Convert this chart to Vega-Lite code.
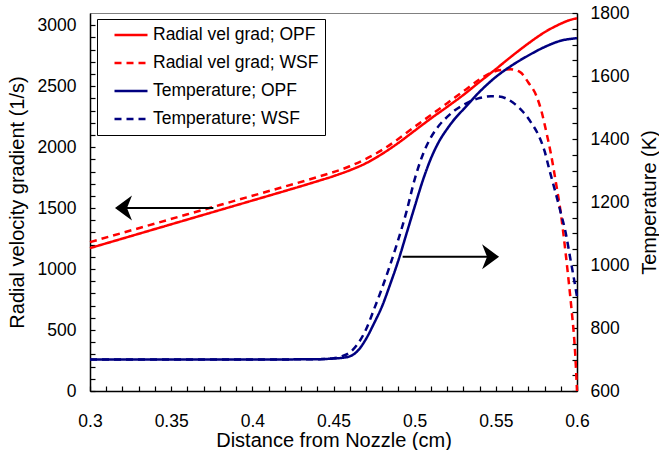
{
  "$schema": "https://vega.github.io/schema/vega-lite/v6.json",
  "width": 487,
  "height": 378,
  "autosize": {"type": "none"},
  "padding": {"left": 90, "top": 13, "right": 82, "bottom": 59},
  "background": "white",
  "config": {
    "font": "Liberation Sans",
    "view": {"stroke": "#808080", "strokeWidth": 1},
    "axis": {
      "grid": false, "domainColor": "#000", "domainWidth": 1.5, "tickColor": "#000", "tickWidth": 1.2, "tickSize": -5,
      "labelFont": "Liberation Sans", "labelFontSize": 17.5, "labelColor": "#000", "labelOverlap": false, "labelBound": false, "labelFlush": false,
      "titleFont": "Liberation Sans", "titleFontSize": 20, "titleFontWeight": "normal", "titleColor": "#000"
    },
    "legend": {
      "orient": "none", "legendX": 7, "legendY": 6, "strokeColor": "#000", "fillColor": "#fff", "strokeWidth": 1,
      "padding": 6, "symbolOffset": 10, "symbolType": "stroke", "symbolSize": 1089, "symbolStrokeWidth": 2.5,
      "clipHeight": 20, "rowPadding": 8, "labelOffset": 4, "labelFontSize": 17.5, "labelFont": "Liberation Sans", "labelColor": "#000", "labelLimit": 400
    }
  },
  "datasets": {
    "radial": [
      {"d": 0.3, "val": 1172, "series": "Radial vel grad; OPF"},
      {"d": 0.32, "val": 1250, "series": "Radial vel grad; OPF"},
      {"d": 0.34, "val": 1328, "series": "Radial vel grad; OPF"},
      {"d": 0.36, "val": 1406, "series": "Radial vel grad; OPF"},
      {"d": 0.38, "val": 1484, "series": "Radial vel grad; OPF"},
      {"d": 0.4, "val": 1562, "series": "Radial vel grad; OPF"},
      {"d": 0.42, "val": 1640, "series": "Radial vel grad; OPF"},
      {"d": 0.44, "val": 1720, "series": "Radial vel grad; OPF"},
      {"d": 0.45, "val": 1762, "series": "Radial vel grad; OPF"},
      {"d": 0.46, "val": 1810, "series": "Radial vel grad; OPF"},
      {"d": 0.47, "val": 1868, "series": "Radial vel grad; OPF"},
      {"d": 0.48, "val": 1945, "series": "Radial vel grad; OPF"},
      {"d": 0.49, "val": 2035, "series": "Radial vel grad; OPF"},
      {"d": 0.5, "val": 2135, "series": "Radial vel grad; OPF"},
      {"d": 0.51, "val": 2235, "series": "Radial vel grad; OPF"},
      {"d": 0.52, "val": 2330, "series": "Radial vel grad; OPF"},
      {"d": 0.53, "val": 2428, "series": "Radial vel grad; OPF"},
      {"d": 0.54, "val": 2535, "series": "Radial vel grad; OPF"},
      {"d": 0.55, "val": 2640, "series": "Radial vel grad; OPF"},
      {"d": 0.56, "val": 2748, "series": "Radial vel grad; OPF"},
      {"d": 0.57, "val": 2850, "series": "Radial vel grad; OPF"},
      {"d": 0.58, "val": 2942, "series": "Radial vel grad; OPF"},
      {"d": 0.59, "val": 3012, "series": "Radial vel grad; OPF"},
      {"d": 0.595, "val": 3040, "series": "Radial vel grad; OPF"},
      {"d": 0.6, "val": 3057, "series": "Radial vel grad; OPF"},
      {"d": 0.3, "val": 1221, "series": "Radial vel grad; WSF"},
      {"d": 0.32, "val": 1297, "series": "Radial vel grad; WSF"},
      {"d": 0.34, "val": 1373, "series": "Radial vel grad; WSF"},
      {"d": 0.36, "val": 1449, "series": "Radial vel grad; WSF"},
      {"d": 0.38, "val": 1525, "series": "Radial vel grad; WSF"},
      {"d": 0.4, "val": 1601, "series": "Radial vel grad; WSF"},
      {"d": 0.42, "val": 1677, "series": "Radial vel grad; WSF"},
      {"d": 0.44, "val": 1754, "series": "Radial vel grad; WSF"},
      {"d": 0.46, "val": 1843, "series": "Radial vel grad; WSF"},
      {"d": 0.48, "val": 1977, "series": "Radial vel grad; WSF"},
      {"d": 0.5, "val": 2167, "series": "Radial vel grad; WSF"},
      {"d": 0.52, "val": 2360, "series": "Radial vel grad; WSF"},
      {"d": 0.53, "val": 2458, "series": "Radial vel grad; WSF"},
      {"d": 0.54, "val": 2555, "series": "Radial vel grad; WSF"},
      {"d": 0.547, "val": 2610, "series": "Radial vel grad; WSF"},
      {"d": 0.553, "val": 2632, "series": "Radial vel grad; WSF"},
      {"d": 0.559, "val": 2638, "series": "Radial vel grad; WSF"},
      {"d": 0.565, "val": 2615, "series": "Radial vel grad; WSF"},
      {"d": 0.57, "val": 2530, "series": "Radial vel grad; WSF"},
      {"d": 0.575, "val": 2420, "series": "Radial vel grad; WSF"},
      {"d": 0.578, "val": 2300, "series": "Radial vel grad; WSF"},
      {"d": 0.581, "val": 2130, "series": "Radial vel grad; WSF"},
      {"d": 0.584, "val": 1940, "series": "Radial vel grad; WSF"},
      {"d": 0.587, "val": 1710, "series": "Radial vel grad; WSF"},
      {"d": 0.59, "val": 1460, "series": "Radial vel grad; WSF"},
      {"d": 0.593, "val": 1130, "series": "Radial vel grad; WSF"},
      {"d": 0.595, "val": 885, "series": "Radial vel grad; WSF"},
      {"d": 0.597, "val": 620, "series": "Radial vel grad; WSF"},
      {"d": 0.598, "val": 475, "series": "Radial vel grad; WSF"},
      {"d": 0.599, "val": 280, "series": "Radial vel grad; WSF"},
      {"d": 0.6, "val": 0, "series": "Radial vel grad; WSF"}
    ],
    "temp": [
      {"d": 0.3, "val": 700, "series": "Temperature; OPF"},
      {"d": 0.35, "val": 700, "series": "Temperature; OPF"},
      {"d": 0.4, "val": 700, "series": "Temperature; OPF"},
      {"d": 0.44, "val": 701, "series": "Temperature; OPF"},
      {"d": 0.45, "val": 703, "series": "Temperature; OPF"},
      {"d": 0.455, "val": 705, "series": "Temperature; OPF"},
      {"d": 0.46, "val": 710, "series": "Temperature; OPF"},
      {"d": 0.465, "val": 728, "series": "Temperature; OPF"},
      {"d": 0.47, "val": 765, "series": "Temperature; OPF"},
      {"d": 0.475, "val": 815, "series": "Temperature; OPF"},
      {"d": 0.48, "val": 870, "series": "Temperature; OPF"},
      {"d": 0.485, "val": 940, "series": "Temperature; OPF"},
      {"d": 0.49, "val": 1015, "series": "Temperature; OPF"},
      {"d": 0.495, "val": 1100, "series": "Temperature; OPF"},
      {"d": 0.5, "val": 1185, "series": "Temperature; OPF"},
      {"d": 0.505, "val": 1268, "series": "Temperature; OPF"},
      {"d": 0.51, "val": 1338, "series": "Temperature; OPF"},
      {"d": 0.515, "val": 1392, "series": "Temperature; OPF"},
      {"d": 0.52, "val": 1432, "series": "Temperature; OPF"},
      {"d": 0.525, "val": 1466, "series": "Temperature; OPF"},
      {"d": 0.53, "val": 1494, "series": "Temperature; OPF"},
      {"d": 0.54, "val": 1550, "series": "Temperature; OPF"},
      {"d": 0.55, "val": 1597, "series": "Temperature; OPF"},
      {"d": 0.56, "val": 1634, "series": "Temperature; OPF"},
      {"d": 0.57, "val": 1665, "series": "Temperature; OPF"},
      {"d": 0.58, "val": 1692, "series": "Temperature; OPF"},
      {"d": 0.59, "val": 1712, "series": "Temperature; OPF"},
      {"d": 0.6, "val": 1720, "series": "Temperature; OPF"},
      {"d": 0.3, "val": 700, "series": "Temperature; WSF"},
      {"d": 0.35, "val": 700, "series": "Temperature; WSF"},
      {"d": 0.4, "val": 700, "series": "Temperature; WSF"},
      {"d": 0.44, "val": 701, "series": "Temperature; WSF"},
      {"d": 0.45, "val": 704, "series": "Temperature; WSF"},
      {"d": 0.455, "val": 710, "series": "Temperature; WSF"},
      {"d": 0.46, "val": 722, "series": "Temperature; WSF"},
      {"d": 0.465, "val": 750, "series": "Temperature; WSF"},
      {"d": 0.47, "val": 795, "series": "Temperature; WSF"},
      {"d": 0.475, "val": 860, "series": "Temperature; WSF"},
      {"d": 0.48, "val": 928, "series": "Temperature; WSF"},
      {"d": 0.485, "val": 1002, "series": "Temperature; WSF"},
      {"d": 0.49, "val": 1082, "series": "Temperature; WSF"},
      {"d": 0.495, "val": 1170, "series": "Temperature; WSF"},
      {"d": 0.5, "val": 1272, "series": "Temperature; WSF"},
      {"d": 0.505, "val": 1350, "series": "Temperature; WSF"},
      {"d": 0.51, "val": 1405, "series": "Temperature; WSF"},
      {"d": 0.515, "val": 1443, "series": "Temperature; WSF"},
      {"d": 0.52, "val": 1470, "series": "Temperature; WSF"},
      {"d": 0.525, "val": 1492, "series": "Temperature; WSF"},
      {"d": 0.53, "val": 1508, "series": "Temperature; WSF"},
      {"d": 0.535, "val": 1521, "series": "Temperature; WSF"},
      {"d": 0.54, "val": 1530, "series": "Temperature; WSF"},
      {"d": 0.547, "val": 1536, "series": "Temperature; WSF"},
      {"d": 0.552, "val": 1535, "series": "Temperature; WSF"},
      {"d": 0.557, "val": 1527, "series": "Temperature; WSF"},
      {"d": 0.562, "val": 1510, "series": "Temperature; WSF"},
      {"d": 0.567, "val": 1485, "series": "Temperature; WSF"},
      {"d": 0.572, "val": 1450, "series": "Temperature; WSF"},
      {"d": 0.576, "val": 1415, "series": "Temperature; WSF"},
      {"d": 0.58, "val": 1362, "series": "Temperature; WSF"},
      {"d": 0.583, "val": 1302, "series": "Temperature; WSF"},
      {"d": 0.586, "val": 1245, "series": "Temperature; WSF"},
      {"d": 0.59, "val": 1166, "series": "Temperature; WSF"},
      {"d": 0.593, "val": 1103, "series": "Temperature; WSF"},
      {"d": 0.596, "val": 1017, "series": "Temperature; WSF"},
      {"d": 0.598, "val": 960, "series": "Temperature; WSF"},
      {"d": 0.6, "val": 899, "series": "Temperature; WSF"}
    ],
    "arrows": [
      {"d": 0.3185, "d2": 0.376, "val": 1500},
      {"d": 0.4926, "d2": 0.549, "val": 1100}
    ]
  },
  "layer": [
    {
      "layer": [
        {
          "data": {"name": "radial"},
          "mark": {"type": "line", "strokeWidth": 2.5, "interpolate": "monotone"},
          "encoding": {
            "x": {"field": "d", "type": "quantitative", "scale": {"domain": [0.3, 0.6], "nice": false, "zero": false},
              "axis": {"title": "Distance from Nozzle (cm)", "labelPadding": 26, "titlePadding": 1, "labelOverlap": false, "labelFlush": false, "tickCount": 100,
                "values": [0.3, 0.31, 0.32, 0.33, 0.34, 0.35, 0.36, 0.37, 0.38, 0.39, 0.4, 0.41, 0.42, 0.43, 0.44, 0.45, 0.46, 0.47, 0.48, 0.49, 0.5, 0.51, 0.52, 0.53, 0.54, 0.55, 0.56, 0.57, 0.58, 0.59, 0.6],
                "labelFontSize": {"condition": {"test": "round(datum.value*100) % 5 == 0", "value": 17.5}, "value": 0},
                "labelExpr": "(round(datum.value*100) % 5 == 0) ? format(datum.value, '~g') : ''"}},
            "y": {"field": "val", "type": "quantitative", "scale": {"domain": [0, 3100], "nice": false, "zero": false},
              "axis": {"title": "Radial velocity gradient (1/s)", "orient": "left", "labelPadding": 19, "titlePadding": 10, "labelOverlap": false, "tickCount": 100,
                "values": [0, 100, 200, 300, 400, 500, 600, 700, 800, 900, 1000, 1100, 1200, 1300, 1400, 1500, 1600, 1700, 1800, 1900, 2000, 2100, 2200, 2300, 2400, 2500, 2600, 2700, 2800, 2900, 3000],
                "labelFontSize": {"condition": {"test": "datum.value % 500 == 0", "value": 17.5}, "value": 0},
                "labelExpr": "(datum.value % 500 == 0) ? format(datum.value, 'd') : ''"}},
            "color": {"field": "series", "type": "nominal",
              "scale": {"domain": ["Radial vel grad; OPF", "Radial vel grad; WSF", "Temperature; OPF", "Temperature; WSF"], "range": ["#ff0000", "#ff0000", "#000080", "#000080"]},
              "legend": {"title": null}},
            "strokeDash": {"field": "series", "type": "nominal",
              "scale": {"domain": ["Radial vel grad; OPF", "Radial vel grad; WSF", "Temperature; OPF", "Temperature; WSF"], "range": [[1, 0], [7, 5], [1, 0], [7, 5]]},
              "legend": {"title": null}}
          }
        },
        {
          "data": {"name": "arrows"},
          "mark": {"type": "rule", "strokeWidth": 2, "color": "#000"},
          "encoding": {
            "x": {"field": "d", "type": "quantitative"},
            "x2": {"field": "d2"},
            "y": {"field": "val", "type": "quantitative"}
          }
        },
        {
          "data": {"values": [{"d": 0.3154, "val": 1500}]},
          "mark": {"type": "point", "shape": "M0,0L1.36,-1L0.96,0L1.36,1Z", "filled": true, "color": "#000", "size": 625, "opacity": 1},
          "encoding": {
            "x": {"field": "d", "type": "quantitative"},
            "y": {"field": "val", "type": "quantitative"}
          }
        },
        {
          "data": {"values": [{"d": 0.552, "val": 1100}]},
          "mark": {"type": "point", "shape": "M0,0L-1.36,-1L-0.96,0L-1.36,1Z", "filled": true, "color": "#000", "size": 625, "opacity": 1},
          "encoding": {
            "x": {"field": "d", "type": "quantitative"},
            "y": {"field": "val", "type": "quantitative"}
          }
        }
      ]
    },
    {
      "data": {"name": "temp"},
      "mark": {"type": "line", "strokeWidth": 2.5, "interpolate": "monotone"},
      "encoding": {
        "x": {"field": "d", "type": "quantitative"},
        "y": {"field": "val", "type": "quantitative", "scale": {"domain": [600, 1800], "nice": false, "zero": false},
          "axis": {"title": "Temperature (K)", "orient": "right", "labelPadding": 18, "titlePadding": 11, "titleAngle": 270, "titleBaseline": "top", "labelOverlap": false, "tickCount": 100,
            "values": [600, 650, 700, 750, 800, 850, 900, 950, 1000, 1050, 1100, 1150, 1200, 1250, 1300, 1350, 1400, 1450, 1500, 1550, 1600, 1650, 1700, 1750, 1800],
            "labelFontSize": {"condition": {"test": "datum.value % 200 == 0", "value": 17.5}, "value": 0},
            "labelExpr": "(datum.value % 200 == 0) ? format(datum.value, 'd') : ''"}},
        "color": {"field": "series", "type": "nominal"},
        "strokeDash": {"field": "series", "type": "nominal"}
      }
    }
  ],
  "resolve": {"scale": {"y": "independent"}}
}
